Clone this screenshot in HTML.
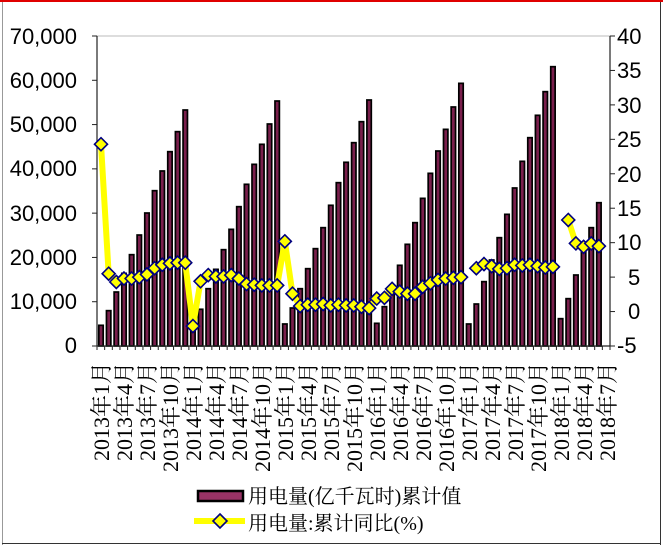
<!DOCTYPE html>
<html><head><meta charset="utf-8"><style>body{margin:0;background:#fff}svg{display:block}</style></head><body>
<svg id="s" width="663" height="545" xmlns="http://www.w3.org/2000/svg">
<rect x="0" y="0" width="663" height="545" fill="#fff"/>
<line x1="0" y1="1" x2="663" y2="1" stroke="#e00000" stroke-width="2"/>
<line x1="2.5" y1="2" x2="2.5" y2="545" stroke="#999" stroke-width="1"/>
<line x1="660.5" y1="2" x2="660.5" y2="545" stroke="#333" stroke-width="1"/>
<line x1="2" y1="543.5" x2="661" y2="543.5" stroke="#333" stroke-width="1"/>
<rect x="97" y="36" width="513" height="310" fill="none" stroke="#bbb" stroke-width="1"/>
<g id="bars"></g>
<line x1="97" y1="36" x2="97" y2="346" stroke="#222" stroke-width="1.2"/>
<line x1="610" y1="36" x2="610" y2="346" stroke="#222" stroke-width="1.2"/>
<line x1="97" y1="346" x2="610" y2="346" stroke="#222" stroke-width="1.2"/>
<g id="ticks" stroke="#222" stroke-width="1"></g>
<g id="line"></g>
<g font-family="Liberation Sans, sans-serif" font-size="22" fill="#000" text-anchor="end">
<text x="77" y="44">70,000</text><text x="77" y="88">60,000</text><text x="77" y="132">50,000</text><text x="77" y="176">40,000</text><text x="77" y="221">30,000</text><text x="77" y="265">20,000</text><text x="77" y="309">10,000</text><text x="77" y="353">0</text>
</g>
<g font-family="Liberation Sans, sans-serif" font-size="22" fill="#000" text-anchor="start">
<text x="617" y="44">40</text><text x="617" y="78">35</text><text x="617" y="113">30</text><text x="617" y="147">25</text><text x="617" y="182">20</text><text x="617" y="216">15</text><text x="617" y="250">10</text><text x="628" y="285">5</text><text x="628" y="319">0</text><text x="617" y="353">-5</text>
</g>
<g font-family="Liberation Serif, Noto Serif CJK SC, serif" font-size="22" fill="#000" text-anchor="end">
<text transform="translate(109,362) rotate(-90)">2013年1月</text>
<text transform="translate(132,362) rotate(-90)">2013年4月</text>
<text transform="translate(155,362) rotate(-90)">2013年7月</text>
<text transform="translate(178,362) rotate(-90)">2013年10月</text>
<text transform="translate(201,362) rotate(-90)">2014年1月</text>
<text transform="translate(224,362) rotate(-90)">2014年4月</text>
<text transform="translate(247,362) rotate(-90)">2014年7月</text>
<text transform="translate(270,362) rotate(-90)">2014年10月</text>
<text transform="translate(293,362) rotate(-90)">2015年1月</text>
<text transform="translate(316,362) rotate(-90)">2015年4月</text>
<text transform="translate(339,362) rotate(-90)">2015年7月</text>
<text transform="translate(362,362) rotate(-90)">2015年10月</text>
<text transform="translate(385,362) rotate(-90)">2016年1月</text>
<text transform="translate(408,362) rotate(-90)">2016年4月</text>
<text transform="translate(431,362) rotate(-90)">2016年7月</text>
<text transform="translate(454,362) rotate(-90)">2016年10月</text>
<text transform="translate(477,362) rotate(-90)">2017年1月</text>
<text transform="translate(500,362) rotate(-90)">2017年4月</text>
<text transform="translate(523,362) rotate(-90)">2017年7月</text>
<text transform="translate(546,362) rotate(-90)">2017年10月</text>
<text transform="translate(569,362) rotate(-90)">2018年1月</text>
<text transform="translate(592,362) rotate(-90)">2018年4月</text>
<text transform="translate(615,362) rotate(-90)">2018年7月</text>
</g>
<rect x="198" y="491" width="45" height="10" fill="#993366" stroke="#000" stroke-width="2.5"/>
<line x1="194" y1="521" x2="245" y2="521" stroke="#ffff00" stroke-width="6"/>
<polygon points="220,514 227,521 220,528 213,521" fill="#ffff00" stroke="#000080" stroke-width="1.6"/>
<g font-family="Liberation Serif, Noto Serif CJK SC, serif" font-size="20" fill="#000">
<text x="248" y="503">用电量(亿千瓦时)累计值</text>
<text x="248" y="530">用电量:累计同比(%)</text>
</g>
</svg>
<script>
var B=[4670,7980,12190,16400,20620,25060,30030,35070,39520,43880,48400,53290,
4900,8290,12940,17310,21750,26340,31460,36510,41020,45540,50130,55320,
4970,8580,12940,17460,21980,26720,31770,36880,41480,45910,50650,55550,
5120,8880,13400,18220,22960,27850,33340,38990,44030,48920,53970,59310,
4970,9480,14530,19420,24460,29730,35680,41700,47040,52090,57430,63070,
6170,10690,16030,21680,26720,32360];
var M=[24.3,5.5,4.3,4.8,4.8,5.0,5.4,6.3,6.8,7.0,7.1,7.1,
-2.1,4.4,5.3,5.1,5.1,5.3,4.8,4.0,3.9,3.8,3.8,3.8,
10.2,2.6,0.8,1.0,1.0,1.1,0.9,1.0,0.9,0.9,0.7,0.5,
1.9,2.0,3.3,2.9,2.6,2.6,3.6,4.1,4.6,4.8,4.9,5.0,
null,6.3,6.9,6.6,6.2,6.3,6.8,6.7,6.8,6.6,6.4,6.5,
null,13.3,9.9,9.4,9.9,9.5];
var NS="http://www.w3.org/2000/svg";
function el(t,a,p){var e=document.createElementNS(NS,t);for(var k in a)e.setAttribute(k,a[k]);p.appendChild(e);return e;}
var bars=document.getElementById('bars'),ln=document.getElementById('line'),tk=document.getElementById('ticks');
function X(i){return 101+7.66*i;}
function YL(v){return 346-v/70000*310;}
function YR(v){return 311.6-v*310/45;}
for(var i=0;i<B.length;i++){var y=YL(B[i]);el('rect',{x:X(i)-2.2,y:y,width:4.4,height:346-y,fill:'#7a1f4c',stroke:'#000','stroke-width':1.7},bars);}
for(var j=0;j<8;j++){var y=36+j*310/7;el('line',{x1:92,y1:y,x2:97,y2:y},tk);}
for(var j=0;j<10;j++){var y=36+j*310/9;el('line',{x1:610,y1:y,x2:615,y2:y},tk);}
for(var j=0;j<=67;j++){var x=97+j*513/67;el('line',{x1:x,y1:346,x2:x,y2:350},tk);}
var seg=[],segs=[];
for(var i=0;i<M.length;i++){if(M[i]===null){if(seg.length)segs.push(seg);seg=[];}else seg.push(X(i)+','+YR(M[i]));}
if(seg.length)segs.push(seg);
segs.forEach(function(s){el('polyline',{points:s.join(' '),fill:'none',stroke:'#ffff00','stroke-width':6,'stroke-linejoin':'round'},ln);});
for(var i=0;i<M.length;i++){if(M[i]===null)continue;var x=X(i),y=YR(M[i]);
el('polygon',{points:x+','+(y-6.5)+' '+(x+6.5)+','+y+' '+x+','+(y+6.5)+' '+(x-6.5)+','+y,fill:'#ffff00',stroke:'#000080','stroke-width':1.6},ln);}
</script>
</body></html>
